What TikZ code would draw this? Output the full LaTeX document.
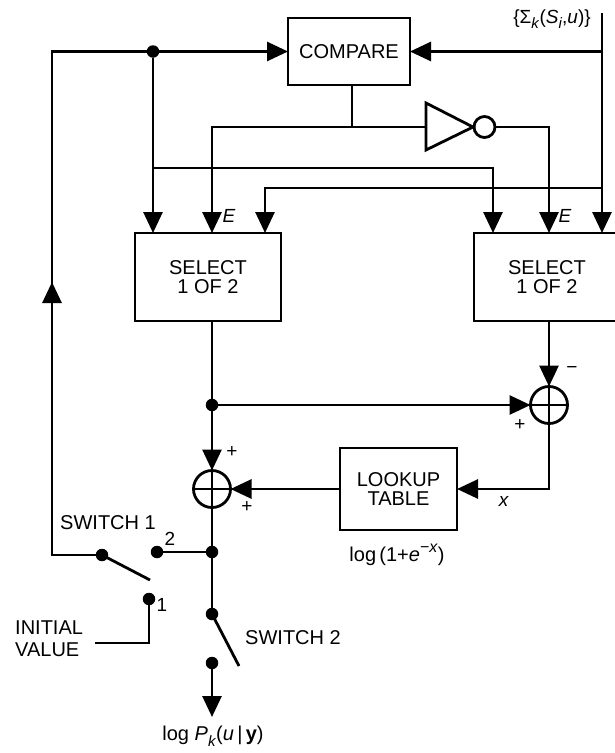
\documentclass[tikz,border=0pt]{standalone}
\usepackage{fontspec}
\setmainfont{Liberation Sans}
\usetikzlibrary{arrows.meta}
\newcommand{\subk}[1]{\raisebox{-0.28em}{\fontsize{15}{15}\selectfont #1}}
\newcommand{\supx}[1]{\raisebox{0.45em}{\fontsize{16}{16}\selectfont #1}}
\begin{document}
\begin{tikzpicture}[x=1pt,y=-1pt,
  wire/.style={line width=2.8pt},
  arr/.style={wire,-{Triangle[length=21pt,width=19pt]}},
  blk/.style={draw,line width=2.8pt,inner sep=0pt,outer sep=0pt,align=center,font=\fontsize{20}{19}\selectfont},
  lbl/.style={inner sep=0pt,font=\fontsize{20}{22}\selectfont},
  sml/.style={inner sep=0pt,font=\fontsize{19}{19}\selectfont},
  dotn/.style={circle,fill,inner sep=0pt,outer sep=0pt,minimum size=12.5pt},
  sum/.style={circle,draw,line width=2.8pt,minimum size=37pt,inner sep=0pt,outer sep=0pt},
]
\useasboundingbox (0,0) rectangle (614,753);

% blocks
\node[blk,minimum width=122pt,minimum height=67pt] (cmp) at (349,51.5) {COMPARE};
\node[blk,minimum width=146pt,minimum height=88pt] (selL) at (208,277) {SELECT\\1 OF 2};
\node[blk,minimum width=146pt,minimum height=88pt] (selR) at (547,277) {SELECT\\1 OF 2};
\node[blk,minimum width=117pt,minimum height=82pt] (lut) at (398.5,489) {LOOKUP\\TABLE};
\node[sum] (sR) at (549,405) {};
\node[sum] (sL) at (212,489) {};
\draw[wire] (sR.north) -- (sR.south) (sR.west) -- (sR.east);
\draw[wire] (sL.north) -- (sL.south) (sL.west) -- (sL.east);

% inverter
\draw[wire] (426,103) -- (426,150) -- (473,127) -- cycle;
\coordinate (invin) at (426,127);
\node[circle,draw,line width=2.8pt,minimum size=21pt,inner sep=0pt,outer sep=0pt] (bub) at (484.5,127) {};

% dots
\node[dotn] (d1) at (153,51.5) {};
\node[dotn] (d2) at (212,405) {};
\node[dotn] (d3) at (212,552) {};
\node[dotn] (c2) at (157,552) {};
\node[dotn] (c0) at (102,555) {};
\node[dotn] (c1) at (149,599) {};
\node[dotn] (s2a) at (212,614) {};
\node[dotn] (s2b) at (212,663) {};

% coordinates
\coordinate (L1) at ([xshift=18pt]selL.north west);
\coordinate (L2) at ([xshift=77pt]selL.north west);
\coordinate (L3) at ([xshift=130pt]selL.north west);
\coordinate (R1) at ([xshift=19pt]selR.north west);
\coordinate (R2) at ([xshift=75pt]selR.north west);
\coordinate (R3) at ([xshift=128pt]selR.north west);
\coordinate (sig) at (602,13);
\coordinate (k1) at (153,168);
\coordinate (k2) at (602,188);
\coordinate (cj) at (352,127);
\coordinate (lft) at (52,555);
\coordinate (lftt) at (52,51.5);
\coordinate (ma) at (52,303);
\coordinate (mb) at (52,282);
\coordinate (arm1) at (150,580);
\coordinate (arm2) at (239,666);
\coordinate (ivend) at (95,643);
\coordinate (out) at (212,717);

% top connectors
\draw[arr] (c0) -- (lft) -- (lftt) -- (cmp.west);
\draw[arr] (ma) -- (mb);
\draw[arr] (d1) -- (L1);
\draw[arr] (k1) -| (R1);
\draw[arr] (sig) -- (R3);
\draw[arr] (sig |- cmp.east) -- (cmp.east);
\draw[arr] (k2) -| (L3);
\draw[wire] ([xshift=3pt]cmp.south) -- (cj);
\draw[wire] (cj) -- (invin);
\draw[arr] (cj) -| (L2);
\draw[arr] (bub.east) -| (R2);

% lower connectors
\draw[wire] (L2 |- selL.south) -- (d2);
\draw[arr] (d2) -- (sL.north);
\draw[arr] (d2) -- (sR.west);
\draw[arr] (R2 |- selR.south) -- (sR.north);
\draw[arr] (sR.south) |- (lut.east);
\draw[arr] (lut.west) -- (sL.east);
\draw[wire] (sL.south) -- (d3);
\draw[wire] (d3) -- (c2);
\draw[wire] (d3) -- (s2a);
\draw[wire] (s2a.center) -- (arm2);
\draw[arr] (s2b) -- (out);
\draw[wire] (c0.center) -- (arm1);
\draw[wire] (c1) |- (ivend);

% labels
\node[sml] (lsig) at (552,19) {\{Σ\subk{\textit{k}}(\textit{S}\subk{\textit{i}},\textit{u})\}};
\node[sml] (e1) at (229,216) {\textit{E}};
\node[sml] (e2) at (565,216) {\textit{E}};
\node[sml] (mn) at (572,370) {−};
\node[sml] (p1) at (520,425) {+};
\node[sml] (p2) at (232,452) {+};
\node[sml] (p3) at (247,507) {+};
\node[sml] (lx) at (504,501) {\textit{x}};
\node[lbl] (lfn) at (397,555) {log\,(1+\textit{e}\supx{−\textit{x}})};
\node[lbl] (sw1) at (108,523) {SWITCH 1};
\node[sml] (n2) at (170,539) {2};
\node[sml] (n1) at (162,605) {1};
\node[lbl,align=left,anchor=west] (iv) at (15,639) {INITIAL\\VALUE};
\node[lbl] (sw2) at (293,638) {SWITCH 2};
\node[lbl] (lout) at (213,736) {log \textit{P}\subk{\textit{k}}(\textit{u}\,|\,\textbf{y})};
\end{tikzpicture}
\end{document}
